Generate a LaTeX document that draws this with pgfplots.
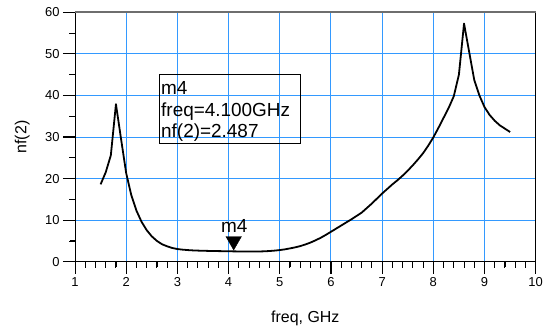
\documentclass[border=0pt]{standalone}
\usepackage{pgfplots}
\pgfplotsset{compat=1.18}
\usepackage{fontspec}
\setmainfont{Liberation Sans}
\definecolor{gridblue}{RGB}{51,153,255}
\definecolor{framegray}{RGB}{110,110,110}
\begin{document}
\begin{tikzpicture}
\path[use as bounding box] (-75bp,-68.3bp) rectangle (473bp,261.7bp);
\foreach \i in {0,...,9} {\fill[black] (\i*51.189bp-0.5bp,0.5bp) rectangle (\i*51.189bp+0.5bp,-12bp);}
\foreach \i in {0,...,44} {\fill[black] (\i*10.2378bp-0.5bp,0.5bp) rectangle (\i*10.2378bp+0.5bp,-6bp);}
\foreach \j in {0,...,6} {\fill[black] (0.5bp,\j*41.567bp-0.5bp) rectangle (-12bp,\j*41.567bp+0.5bp);}
\foreach \j in {0,...,5} {\fill[black] (0.5bp,\j*41.567bp+20.283bp) rectangle (-5bp,\j*41.567bp+21.283bp);}
\begin{axis}[
  at={(0,0)}, anchor=south west,
  scale only axis, width=460.7bp, height=249.4bp,
  xmin=1, xmax=10, ymin=0, ymax=60,
  xtick={1,2,...,10}, ytick={0,10,...,60},
  minor x tick num=4, minor y tick num=1,
  tick align=outside, major tick length=12bp, minor tick length=5.5bp,
  every tick/.style={draw=black, line width=0.8pt},
  xtick pos=left, ytick pos=left,
  grid=major, major grid style={draw=gridblue, line width=1pt},
  axis line style={draw=black, line width=1pt},
  /pgf/number format/assume math mode=true,
  tick label style={font=\fontsize{13}{13}\selectfont},
  xlabel={freq, GHz}, ylabel={nf(2)},
  label style={font=\fontsize{16}{16}\selectfont},
  xlabel style={at={(axis description cs:0.5,0)}, anchor=base, yshift=-60.3bp},
  ylabel style={at={(axis description cs:-0.1145,0.5)}, anchor=center},
  clip=false,
]
\addplot[black, line width=1.8pt, line join=round] table {
1.5 18.6
1.6 21.5
1.7 25.6
1.8 37.9
1.9 29.5
2.0 21.3
2.1 16.0
2.2 12.3
2.3 9.6
2.4 7.6
2.5 6.1
2.6 5.0
2.7 4.2
2.8 3.7
2.9 3.3
3.0 3.05
3.1 2.9
3.2 2.8
3.3 2.72
3.4 2.67
3.5 2.63
3.6 2.6
3.7 2.57
3.8 2.55
3.9 2.53
4.0 2.5
4.1 2.487
4.2 2.47
4.3 2.46
4.4 2.45
4.5 2.45
4.6 2.46
4.7 2.5
4.8 2.57
4.9 2.67
5.0 2.8
5.1 2.97
5.2 3.2
5.3 3.45
5.4 3.75
5.5 4.15
5.6 4.6
5.7 5.15
5.8 5.75
5.9 6.45
6.0 7.2
6.1 7.95
6.2 8.7
6.3 9.45
6.4 10.2
6.5 11.0
6.6 11.8
6.7 12.9
6.8 14.0
6.9 15.2
7.0 16.4
7.1 17.5
7.2 18.6
7.3 19.6
7.4 20.7
7.5 21.9
7.6 23.2
7.7 24.6
7.8 26.1
7.9 27.9
8.0 29.9
8.1 32.2
8.2 34.6
8.3 37.0
8.4 39.8
8.5 45.0
8.6 57.3
8.7 50.5
8.8 43.7
8.9 40.0
9.0 37.2
9.1 35.3
9.2 33.9
9.3 32.8
9.4 32.0
9.5 31.2
};
\addplot[only marks, mark=triangle*, mark size=9bp, mark options={rotate=180, fill=black, draw=black}] coordinates {(4.1,4.98)};
\node[anchor=base, font=\fontsize{19}{19}\selectfont, inner sep=0pt] at (axis cs:4.11,6.98) {m4};
\draw[framegray, line width=1.8pt] (rel axis cs:0,1) -- (rel axis cs:1,1);
\end{axis}
\draw[black, line width=0.9pt] (84bp,187.7bp) rectangle (225bp,118.7bp);
\node[anchor=base west, inner sep=0pt, font=\fontsize{19}{19}\selectfont] at (86bp,166.7bp) {m4};
\node[anchor=base west, inner sep=0pt, font=\fontsize{19}{19}\selectfont] at (86bp,145bp) {freq=4.100GHz};
\node[anchor=base west, inner sep=0pt, font=\fontsize{19}{19}\selectfont] at (86bp,124.4bp) {nf(2)=2.487};
\end{tikzpicture}
\end{document}
